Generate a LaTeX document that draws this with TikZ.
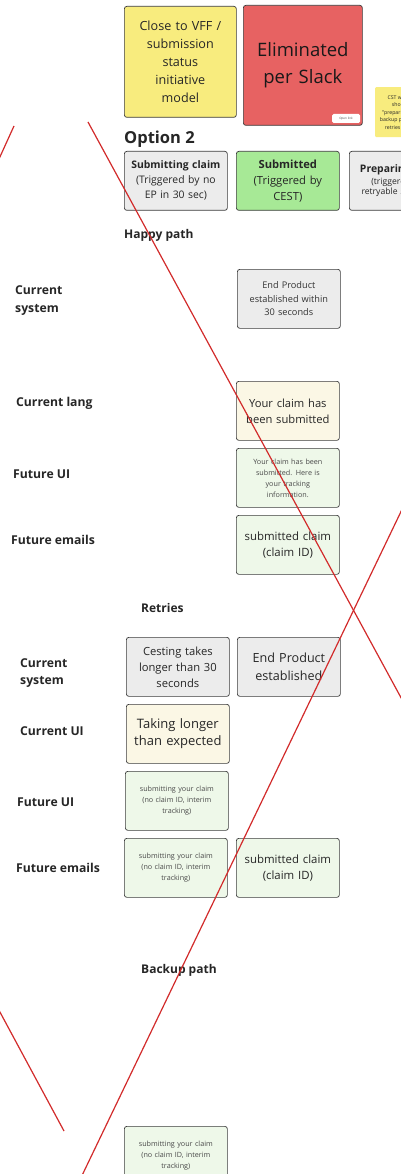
\documentclass[tikz,border=0pt]{standalone}
\usepackage{fontspec}
\setmainfont{Open Sans}
\definecolor{boxline}{HTML}{3C3C3C}
\definecolor{inktext}{HTML}{262626}
\definecolor{softtext}{HTML}{4A4A4A}
\definecolor{stickyyellow}{HTML}{F8EC7E}
\definecolor{slackred}{HTML}{E76262}
\definecolor{stategray}{HTML}{ECECEC}
\definecolor{stategreen}{HTML}{A7E996}
\definecolor{creamfill}{HTML}{FBF7E5}
\definecolor{mintfill}{HTML}{EEF8E9}
\definecolor{strike}{HTML}{D22B2B}
\tikzset{
  card/.style={draw=boxline, line width=0.7pt, rounded corners=2.5pt, anchor=north west,
    minimum width=103pt, minimum height=59pt, align=center, inner sep=1pt,
    text width=99pt, text=inktext},
  graycard/.style={card, fill=stategray},
  creamcard/.style={card, fill=creamfill},
  mintcard/.style={card, fill=mintfill},
  rowlabel/.style={anchor=west, align=left, text=inktext, inner sep=0pt,
    font=\bfseries\fontsize{12.2}{17.5}\selectfont},
  heading/.style={anchor=west, text=inktext, inner sep=0pt, font=\bfseries\fontsize{12}{14}\selectfont},
  tiny/.style={font=\fontsize{7.2}{11}\selectfont, text=softtext},
  strikeline/.style={draw=strike, line width=1.2pt}
}
\begin{document}
\begin{tikzpicture}[x=1pt,y=-1pt]
\useasboundingbox (0,0) rectangle (401,1174);
\fill[white] (0,0) rectangle (401,1174);
\begin{scope}
\clip (0,0) rectangle (401,1174);

% --- header notes ---
\node[card, fill=stickyyellow, minimum width=112pt, minimum height=111pt, text width=108pt,
      font=\fontsize{12.6}{18}\selectfont] (model) at (124,6)
  {Close to VFF /\\submission\\status\\initiative\\model};
\node[card, fill=slackred, minimum width=119pt, minimum height=120pt, text width=115pt,
      font=\fontsize{18.5}{27}\selectfont, text=black!90] (slack) at (243,5)
  {Eliminated\\per Slack};
\node[fill=white, rounded corners=1.5pt, minimum width=28pt, minimum height=9pt, inner sep=0pt,
      font=\fontsize{3}{3}\selectfont, text=softtext] (openlink) at (346,118.5) {Open link};
\node[fill=stickyyellow, rounded corners=1pt, anchor=north west, minimum width=50pt,
      minimum height=50pt, align=center, inner sep=1pt,
      font=\fontsize{5.2}{7.5}\selectfont, text=inktext] (cstnote) at (375,87)
  {CST would\\should\\"preparing" for\\backup path and\\retries so far};

\node[anchor=west, inner sep=0pt, text=inktext, font=\bfseries\fontsize{16.5}{20}\selectfont] (opt) at (124,139.5) {Option 2};

% --- status columns ---
\node[graycard, minimum height=59pt, font=\fontsize{10.4}{15}\selectfont] (submitting) at (124,151)
  {\textbf{Submitting claim}\\(Triggered by no\\EP in 30 sec)};
\node[card, fill=stategreen, font=\fontsize{11.2}{16}\selectfont] (submitted) at (236,151)
  {\textbf{Submitted}\\(Triggered by\\CEST)};
\node[graycard, font=\fontsize{8.6}{10}\selectfont] (preparing) at (349,151)
  {{\bfseries\fontsize{10.4}{15}\selectfont Preparing claim\par}\vspace{2pt}(triggered by a\\retryable 5xx error)};

% --- happy path ---
\node[heading] (happy) at (124,235) {Happy path};
\node[rowlabel] (hsys) at (15,300.5) {Current\\system};
\node[graycard, font=\fontsize{9.2}{13.5}\selectfont, text=softtext!70!black] (hsysbox) at (237,269)
  {End Product\\established within\\30 seconds};
\node[rowlabel] (hlang) at (16,403) {Current lang};
\node[creamcard, font=\fontsize{11.2}{16}\selectfont] (hlangbox) at (236,381)
  {Your claim has\\been submitted};
\node[rowlabel] (hui) at (13,474.5) {Future UI};
\node[mintcard, tiny] (huibox) at (236,448)
  {Your claim has been\\submitted. Here is\\your tracking\\information.};
\node[rowlabel] (hmail) at (11,540) {Future emails};
\node[mintcard, font=\fontsize{11.4}{16}\selectfont] (hmailbox) at (236,515)
  {submitted claim\\(claim ID)};

% --- retries ---
\node[heading] (retries) at (141,608) {Retries};
\node[rowlabel] (rsys) at (20,673) {Current\\system};
\node[graycard, font=\fontsize{11.2}{16}\selectfont] (rsysa) at (126,637)
  {Cesting takes\\longer than 30\\seconds};
\node[graycard, font=\fontsize{12.6}{18}\selectfont] (rsysb) at (237,637)
  {End Product\\established};
\node[rowlabel] (rui) at (20,731) {Current UI};
\node[creamcard, font=\fontsize{13}{17.5}\selectfont] (ruibox) at (126,704)
  {Taking longer\\than expected};
\node[rowlabel] (rfui) at (17,802.5) {Future UI};
\node[mintcard, tiny] (rfuibox) at (125,771)
  {submitting your claim\\(no claim ID, interim\\tracking)};
\node[rowlabel] (rmail) at (16,868) {Future emails};
\node[mintcard, tiny] (rmaila) at (124,838)
  {submitting your claim\\(no claim ID, interim\\tracking)};
\node[mintcard, font=\fontsize{11.4}{16}\selectfont] (rmailb) at (236,838)
  {submitted claim\\(claim ID)};

% --- backup path ---
\node[heading] (backup) at (141,970.5) {Backup path};
\node[mintcard, tiny] (bbox) at (124,1126)
  {submitting your claim\\(no claim ID, interim\\tracking)};

% --- strike-through marks ---
\draw[strikeline] (14,126) -- (-6,170);
\draw[strikeline] (88,122) -- (430,751);
\draw[strikeline] (420,472) -- (76,1188);
\draw[strikeline] (-20,975) -- (64,1131);
\end{scope}
\end{tikzpicture}
\end{document}
